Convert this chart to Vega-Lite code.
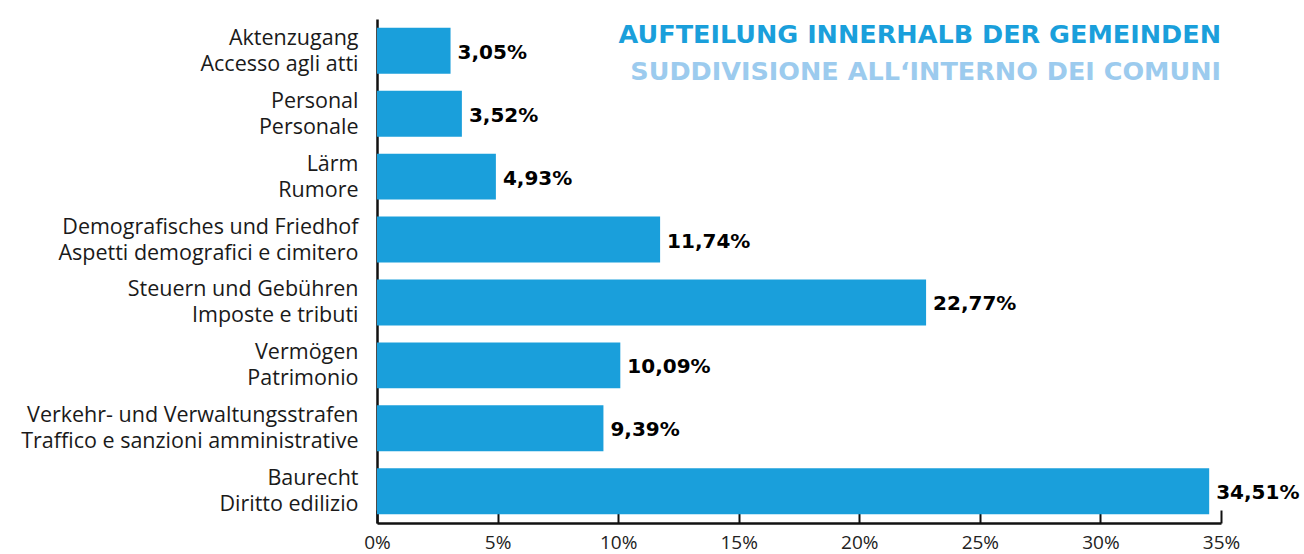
{
  "$schema": "https://vega.github.io/schema/vega-lite/v6.json",
  "width": 844,
  "height": 504,
  "autosize": {"type": "none"},
  "padding": {"left": 377, "top": 19, "right": 83, "bottom": 31},
  "background": "white",
  "config": {
    "locale": {"number": {"decimal": ",", "thousands": ".", "grouping": [3], "currency": ["", " €"]}},
    "view": {"stroke": null},
    "font": "Open Sans"
  },
  "title": {
    "text": "AUFTEILUNG INNERHALB DER GEMEINDEN",
    "subtitle": "SUDDIVISIONE ALL‘INTERNO DEI COMUNI",
    "anchor": "end",
    "frame": "group",
    "orient": "top",
    "offset": -66,
    "font": "DejaVu Sans",
    "fontSize": 25.5,
    "fontWeight": "bold",
    "color": "#1a9fdb",
    "subtitleFont": "DejaVu Sans",
    "subtitleFontSize": 25.5,
    "subtitleFontWeight": "bold",
    "subtitleColor": "#9ccbee",
    "subtitlePadding": 11
  },
  "data": {
    "values": [
      {"category": "Aktenzugang|Accesso agli atti", "share": 0.0305},
      {"category": "Personal|Personale", "share": 0.0352},
      {"category": "Lärm|Rumore", "share": 0.0493},
      {"category": "Demografisches und Friedhof|Aspetti demografici e cimitero", "share": 0.1174},
      {"category": "Steuern und Gebühren|Imposte e tributi", "share": 0.2277},
      {"category": "Vermögen|Patrimonio", "share": 0.1009},
      {"category": "Verkehr- und Verwaltungsstrafen|Traffico e sanzioni amministrative", "share": 0.0939},
      {"category": "Baurecht|Diritto edilizio", "share": 0.3451}
    ]
  },
  "encoding": {
    "y": {
      "field": "category",
      "type": "nominal",
      "sort": null,
      "scale": {"paddingInner": 0.27, "paddingOuter": 0.14},
      "axis": {
        "title": null,
        "labelExpr": "split(datum.value, '|')",
        "labelFont": "Open Sans",
        "labelFontSize": 21.5,
        "labelLineHeight": 26,
        "labelColor": "#1a1a1a",
        "labelPadding": 19,
        "labelOffset": -12,
        "ticks": false,
        "domainColor": "#111111",
        "domainWidth": 2.5,
        "labelLimit": 400
      }
    },
    "x": {
      "field": "share",
      "type": "quantitative",
      "scale": {"domain": [0, 0.35], "nice": false},
      "axis": {
        "title": null,
        "format": ".0%",
        "values": [0, 0.05, 0.1, 0.15, 0.2, 0.25, 0.3, 0.35],
        "grid": false,
        "labelFlush": false,
        "tickSize": -13,
        "tickColor": "#111111",
        "tickWidth": 2,
        "domainColor": "#111111",
        "domainWidth": 2.5,
        "labelFont": "Open Sans",
        "labelFontSize": 19,
        "labelColor": "#222222",
        "labelPadding": 23
      }
    }
  },
  "layer": [
    {"mark": {"type": "bar", "color": "#1a9fdb"}},
    {
      "mark": {"type": "text", "align": "left", "baseline": "middle", "dx": 7, "dy": 2, "font": "DejaVu Sans", "fontSize": 20, "fontWeight": "bold", "color": "#000000"},
      "encoding": {"text": {"field": "share", "type": "quantitative", "format": ".2%"}}
    }
  ]
}
